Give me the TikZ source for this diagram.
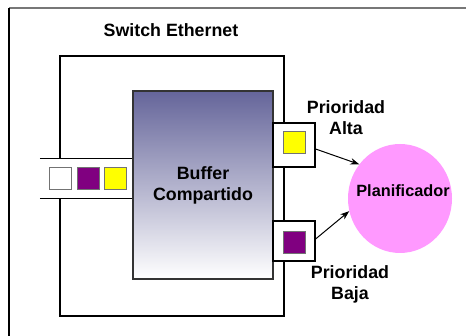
\documentclass[tikz,border=0pt]{standalone}
\usepackage{fontspec}
\setmainfont{Liberation Sans}
\usetikzlibrary{arrows.meta,shapes.geometric}
\definecolor{pktpurple}{HTML}{800080}
\definecolor{pktyellow}{HTML}{FFFF00}
\definecolor{schedpink}{HTML}{FF99FF}
\definecolor{buftop}{HTML}{65659A}
\definecolor{framegray}{HTML}{777777}
\tikzset{
  lbl/.style={font=\fontsize{17.8}{21}\selectfont\bfseries, align=center, inner sep=0pt},
  box/.style={draw=black, line width=1.2pt, fill=white, inner sep=0pt},
  pkt/.style={draw=black!55, line width=1pt, minimum size=22pt, inner sep=0pt},
  wire/.style={line width=1.2pt},
  link/.style={line width=1pt, -{Stealth[length=9pt,width=6.5pt]}},
}
\begin{document}
\begin{tikzpicture}[x=1pt,y=-1pt]
\useasboundingbox[fill=white] (0,0) rectangle (466,336);
% outer frame (only top and left edges fall inside the page)
\draw[framegray, line width=2pt] (9,8.5) -- (466,8.5);
\draw[black, line width=1.3pt] (9,8.5) -- (9,336);

\node[lbl] (title) at (171,30) {Switch Ethernet};

% switch body
\node[box, minimum width=224pt, minimum height=260pt] (switch) at (172,186) {};

% input queue crossing the switch wall
\node[fill=white, inner sep=0pt, minimum width=93pt, minimum height=39pt] (inq) at (86.5,178.5) {};
\draw[wire] (inq.north west) -- (inq.north east);
\draw[wire] (inq.south west) -- (inq.south east);
\node[pkt, fill=white] (in1) at (60,178.5) {};
\node[pkt, fill=pktpurple] (in2) at (88,178.5) {};
\node[pkt, fill=pktyellow] (in3) at (115.5,178.5) {};

% shared buffer
\node[draw=black!80, line width=1.2pt, top color=buftop, bottom color=white,
      minimum width=140pt, minimum height=188pt, inner sep=0pt] (buf) at (203,185) {};
\node[lbl] (buftxt) at (203,185) {\fontsize{17.8}{23}\selectfont Buffer\\Compartido};

% output ports
\node[box, minimum width=42pt, minimum height=44pt] (hi) at (294,145) {};
\node[box, minimum width=42pt, minimum height=40pt] (lo) at (294,241) {};
\node[pkt, fill=pktyellow] (hipkt) at (294,143) {};
\node[pkt, fill=pktpurple] (lopkt) at (294,243) {};

\node[lbl] (hilbl) at (346,117.5) {Prioridad\\Alta};
\node[lbl] (lolbl) at (350,284.5) {Prioridad\\Baja};

% scheduler
\node[ellipse, fill=schedpink, minimum width=104pt, minimum height=109pt, inner sep=0pt] (sched) at (400,198.5) {};
\node[font=\fontsize{16.3}{19}\selectfont\bfseries, inner sep=0pt] (schedtxt) at (403,191) {Planificador};

\draw[link] ([yshift=-4pt]hi.east) -- (sched.140);
\draw[link] ([yshift=2pt]lo.east) -- (sched.194);
\end{tikzpicture}
\end{document}
